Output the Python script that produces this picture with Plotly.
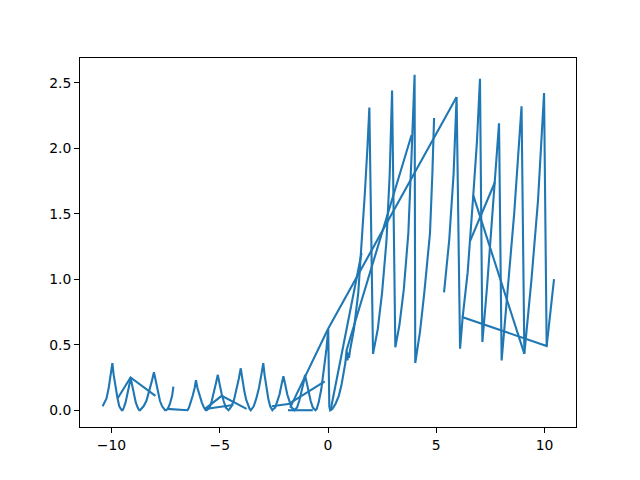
import plotly.graph_objects as go

# ---- data pieces (x, y) ----
# left humps, first run
hump1_x = [-10.41, -10.23, -10.13, -10.03, -9.96,
           -9.9, -9.81, -9.72, -9.64, -9.57, -9.53,
           -9.49, -9.43, -9.35, -9.26, -9.18, -9.12,
           -9.05, -8.97, -8.88, -8.79, -8.72, -8.68,
           -8.62, -8.52, -8.39, -8.26, -8.14, -8.04,
           -7.96, -7.86, -7.76, -7.66, -7.58, -7.53,
           -7.48, -7.4, -7.3, -7.2, -7.14]
hump1_y = [0.03, 0.09, 0.17, 0.27, 0.36,
           0.27, 0.17, 0.09, 0.03, 0.01, 0.0,
           0.0, 0.02, 0.06, 0.12, 0.19, 0.25,
           0.19, 0.12, 0.06, 0.02, 0.0, 0.0,
           0.01, 0.03, 0.07, 0.14, 0.22, 0.29,
           0.22, 0.14, 0.07, 0.03, 0.01, 0.0,
           0.0, 0.01, 0.05, 0.11, 0.18]

jumpA_x = [-9.72, -9.12, -7.97]
jumpA_y = [0.09, 0.25, 0.11]

# second run of humps, through the peak at 0 and the rising saw teeth
main_x = [-7.45, -6.53,
          -6.49, -6.42, -6.34, -6.25, -6.16, -6.1,
          -6.03, -5.93, -5.83, -5.73, -5.65, -5.6,
          -5.55, -5.47, -5.37, -5.27, -5.17, -5.09,
          -5.02, -4.92, -4.82, -4.72, -4.65, -4.6,
          -4.54, -4.46, -4.34, -4.23, -4.12, -4.03,
          -3.96, -3.87, -3.78, -3.69, -3.62, -3.57,
          -3.51, -3.43, -3.31, -3.19, -3.08, -2.99,
          -2.93, -2.84, -2.76, -2.67, -2.61, -2.57,
          -2.52, -2.44, -2.34, -2.24, -2.14, -2.06,
          -1.98, -1.88, -1.78, -1.68, -1.6, -1.55,
          -1.5, -1.43, -1.33, -1.23, -1.13, -1.06,
          -0.99, -0.89, -0.8, -0.7, -0.63, -0.58,
          -0.52, -0.43, -0.31, -0.19, -0.07, 0.01,
          0.03, 0.06, 0.1,
          0.2, 0.35, 0.5, 0.62, 0.72, 0.8, 0.86, 0.9, 0.94, 0.97, 1.02,
          1.2, 1.4, 1.55, 1.7, 1.82, 1.91,
          2.08, 2.3, 2.5, 2.7, 2.85, 2.96,
          3.11, 3.3, 3.5, 3.71, 3.86, 4.0,
          4.03, 4.25, 4.45, 4.71, 4.82, 4.9]
main_y = [0.01, 0.0,
          0.0, 0.02, 0.06, 0.11, 0.17, 0.23,
          0.17, 0.11, 0.06, 0.02, 0.0, 0.0,
          0.01, 0.02, 0.07, 0.13, 0.21, 0.27,
          0.21, 0.13, 0.07, 0.02, 0.01, 0.0,
          0.01, 0.03, 0.08, 0.15, 0.24, 0.32,
          0.24, 0.15, 0.08, 0.03, 0.01, 0.0,
          0.01, 0.03, 0.09, 0.17, 0.27, 0.36,
          0.27, 0.17, 0.09, 0.03, 0.01, 0.0,
          0.01, 0.02, 0.07, 0.12, 0.2, 0.26,
          0.2, 0.12, 0.07, 0.02, 0.01, 0.0,
          0.01, 0.02, 0.07, 0.13, 0.21, 0.27,
          0.21, 0.13, 0.07, 0.02, 0.01, 0.0,
          0.01, 0.06, 0.16, 0.3, 0.47, 0.62,
          0.3, 0.03, 0.0,
          0.01, 0.05, 0.11, 0.19, 0.27, 0.36, 0.46, 0.38, 0.44, 0.4, 0.46,
          0.62, 0.9, 1.25, 1.65, 2.0, 2.31,
          0.43, 0.62, 0.9, 1.29, 1.8, 2.44,
          0.48, 0.65, 0.92, 1.35, 1.95, 2.56,
          0.36, 0.6, 0.9, 1.35, 1.8, 2.23]

# right saw teeth
teethA_x = [5.36, 5.6, 5.8, 5.94, 6.1, 6.22, 10.1, 10.25, 10.44]
teethA_y = [0.9, 1.3, 1.8, 2.39, 0.47, 0.71, 0.49, 0.72, 1.0]

teethB_x = [6.22, 6.45, 6.71, 6.88, 7.02, 7.13, 7.35, 7.55, 7.71, 7.9,
            8.02, 8.3, 8.6, 8.94, 9.07, 9.4, 9.7, 9.98, 10.1]
teethB_y = [0.71, 1.05, 1.64, 2.05, 2.53, 0.52, 0.95, 1.4, 1.74, 2.19,
            0.38, 0.9, 1.5, 2.32, 0.43, 1.0, 1.6, 2.42, 0.49]

# connecting strokes
link1_x = [-5.68, -4.91, -3.76]
link1_y = [0.01, 0.11, 0.01]
link2_x = [-5.68, -4.37]
link2_y = [0.01, 0.04]
link3_x = [-2.6, -1.75]
link3_y = [0.03, 0.05]
link4_x = [-1.7, -0.15]
link4_y = [0.06, 0.22]
link5_x = [-1.85, -0.7]
link5_y = [0.0, 0.0]
link6_x = [-1.75, 0.0, 5.94]
link6_y = [0.02, 0.62, 2.39]
link7_x = [0.86, 3.86]
link7_y = [0.46, 2.1]
link8_x = [0.12, 1.55]
link8_y = [0.0, 1.2]
link9_x = [6.71, 9.07]
link9_y = [1.64, 0.43]
link10_x = [6.56, 7.71]
link10_y = [1.29, 1.74]

pieces = [(hump1_x, hump1_y), (jumpA_x, jumpA_y), (main_x, main_y),
          (teethA_x, teethA_y), (teethB_x, teethB_y),
          (link1_x, link1_y), (link2_x, link2_y), (link3_x, link3_y),
          (link4_x, link4_y), (link5_x, link5_y), (link6_x, link6_y),
          (link7_x, link7_y), (link8_x, link8_y), (link9_x, link9_y),
          (link10_x, link10_y)]

xs, ys = [], []
for px, py in pieces:
    if xs:
        xs.append(None)
        ys.append(None)
    xs.extend(px)
    ys.extend(py)

fig = go.Figure()
fig.add_trace(go.Scatter(x=xs, y=ys, mode="lines", connectgaps=False,
                         line=dict(color="#1f77b4", width=2.1),
                         hoverinfo="skip", showlegend=False))

axis_common = dict(showline=True, linecolor="black", linewidth=1.1, mirror=True,
                   ticks="outside", ticklen=4.9, tickwidth=1.1, tickcolor="black",
                   showgrid=False, zeroline=False,
                   tickfont=dict(family="DejaVu Sans", size=13.9, color="black"))

fig.update_layout(
    width=640, height=480,
    margin=dict(l=72, r=72, t=50, b=61),
    paper_bgcolor="white", plot_bgcolor="white",
    xaxis=dict(range=[-11.455, 11.455], tickvals=[-10, -5, 0, 5, 10], **axis_common),
    yaxis=dict(range=[-0.128, 2.688], tickvals=[0, 0.5, 1.0, 1.5, 2.0, 2.5],
               tickformat=".1f", **axis_common),
)

fig.write_html("out.html")
